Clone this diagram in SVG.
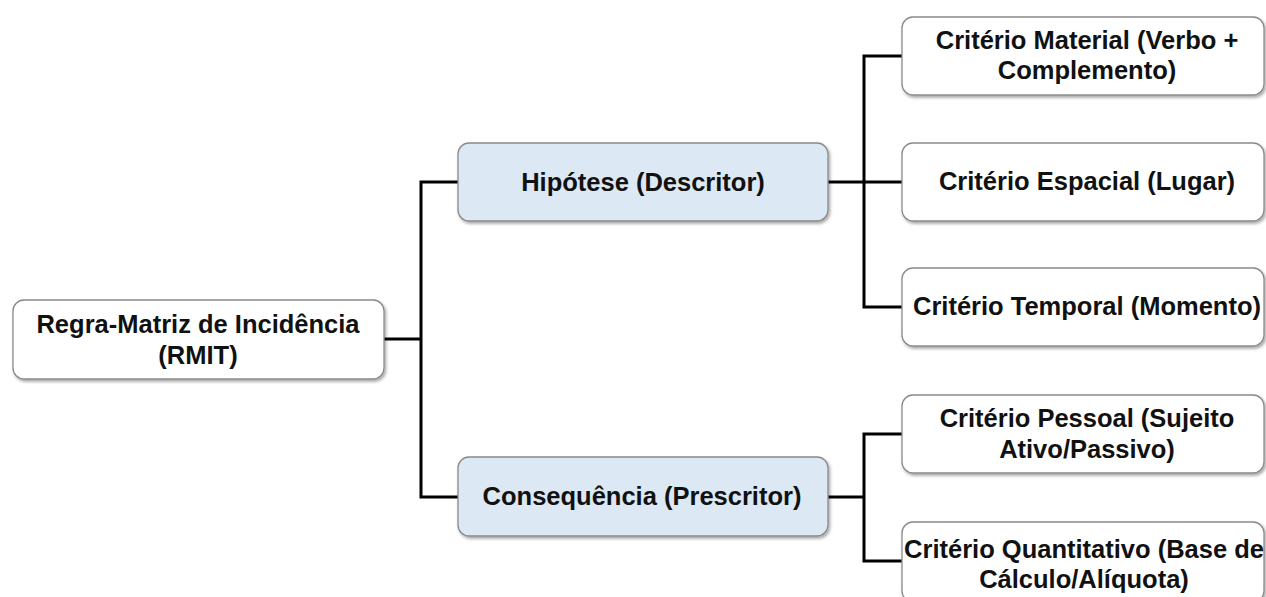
<svg xmlns="http://www.w3.org/2000/svg" width="1266" height="597" viewBox="0 0 1266 597">
<style>
.box{fill:#ffffff;stroke:#8a8a8a;stroke-width:1.3;filter:url(#sh)}
.blue{fill:#dce8f4}
.t{font-family:"Liberation Sans",Arial,sans-serif;font-weight:bold;font-size:25.5px;fill:#111;text-anchor:middle}
.c{fill:none;stroke:#000;stroke-width:3;stroke-linejoin:miter;stroke-linecap:butt}
</style>
<defs>
<filter id="sh" x="-10%" y="-20%" width="120%" height="150%">
<feDropShadow dx="1.5" dy="2" stdDeviation="1.8" flood-color="#000" flood-opacity="0.35"/>
</filter>
</defs>
<rect width="1266" height="597" fill="#ffffff"/>
<g id="connectors">
<path class="c" d="M384 339 H421 M458 182 H421 V497 H458"/>
<path class="c" d="M828 182 H902 M902 56 H864 V307 H902"/>
<path class="c" d="M828 497 H864 M902 434 H864 V561 H902"/>
</g>
<g id="root">
<rect class="box" x="13" y="300" width="371" height="79" rx="11"/>
<text class="t" x="198" y="333">Regra-Matriz de Incidência</text>
<text class="t" x="198" y="364">(RMIT)</text>
</g>
<g id="hipotese">
<rect class="box blue" x="458" y="143" width="370" height="78" rx="11"/>
<text class="t" x="643" y="191">Hipótese (Descritor)</text>
</g>
<g id="consequencia">
<rect class="box blue" x="458" y="457" width="370" height="79" rx="11"/>
<text class="t" x="642" y="505">Consequência (Prescritor)</text>
</g>
<g id="material">
<rect class="box" x="902" y="17" width="362" height="78" rx="11"/>
<text class="t" x="1087" y="49">Critério Material (Verbo +</text>
<text class="t" x="1087" y="79">Complemento)</text>
</g>
<g id="espacial">
<rect class="box" x="902" y="143" width="362" height="78" rx="11"/>
<text class="t" x="1087" y="190">Critério Espacial (Lugar)</text>
</g>
<g id="temporal">
<rect class="box" x="902" y="268" width="362" height="78" rx="11"/>
<text class="t" x="1087" y="315">Critério Temporal (Momento)</text>
</g>
<g id="pessoal">
<rect class="box" x="902" y="395" width="362" height="78" rx="11"/>
<text class="t" x="1087" y="427">Critério Pessoal (Sujeito</text>
<text class="t" x="1087" y="458">Ativo/Passivo)</text>
</g>
<g id="quantitativo">
<rect class="box" x="902" y="522" width="362" height="80" rx="11"/>
<text class="t" x="1084" y="558">Critério Quantitativo (Base de</text>
<text class="t" x="1084" y="588">Cálculo/Alíquota)</text>
</g>
</svg>
